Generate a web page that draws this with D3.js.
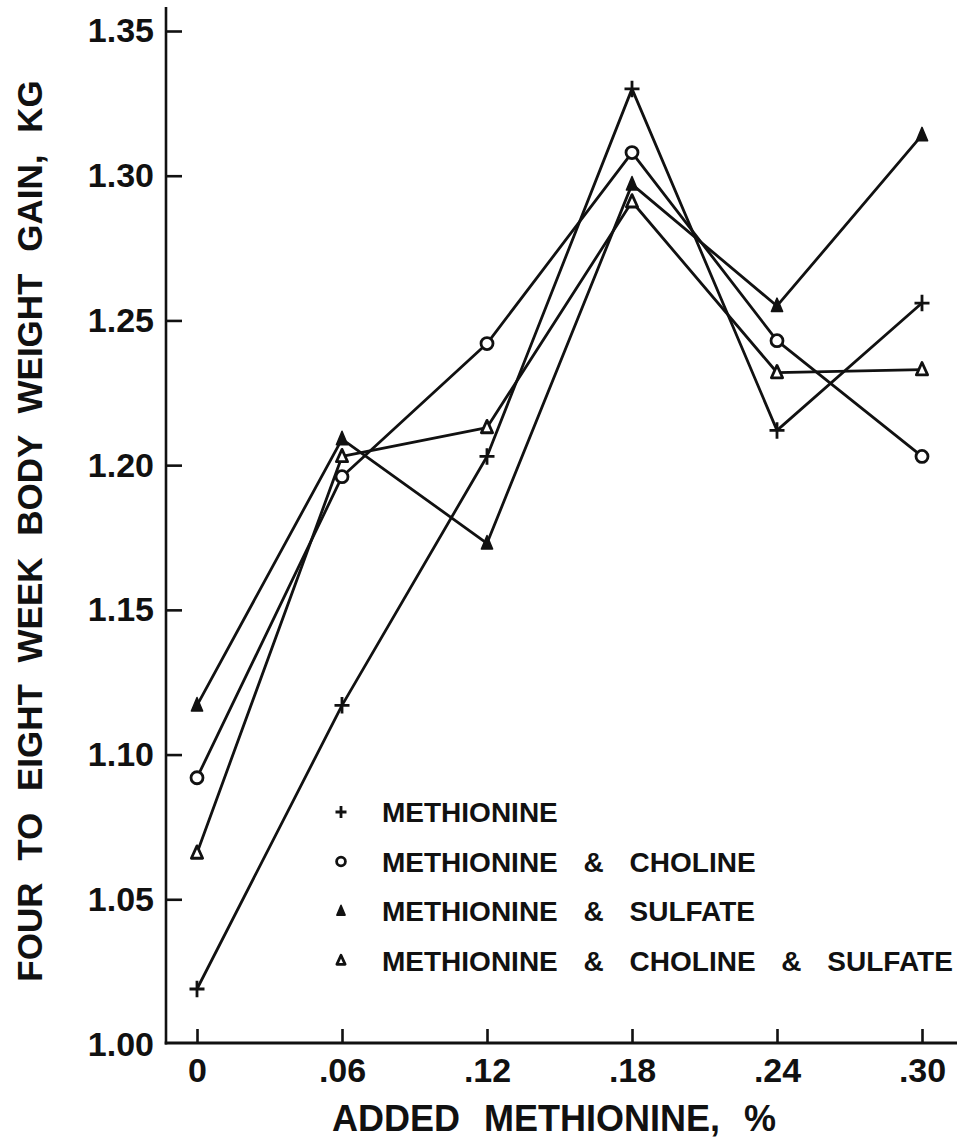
<!DOCTYPE html>
<html>
<head>
<meta charset="utf-8">
<script src="https://cdn.jsdelivr.net/npm/d3@7/dist/d3.min.js"></script>
<style>
  html, body { margin: 0; padding: 0; background: #fff; }
  svg { display: block; }
  text { font-family: "Liberation Sans", Arial, sans-serif; font-weight: bold; fill: #111; }
</style>
</head>
<body>
<svg id="chart" width="959" height="1138"></svg>
<script>
// Added methionine levels (%) and their tick labels
const doses = [0, 0.06, 0.12, 0.18, 0.24, 0.30];
const doseLabels = ["0", ".06", ".12", ".18", ".24", ".30"];

// Weight-gain axis ticks (kg)
const gainTicks = [1.00, 1.05, 1.10, 1.15, 1.20, 1.25, 1.30, 1.35];

// Four to eight week body weight gain, kg, for each supplement
const methionine          = [1.019, 1.117, 1.203, 1.330, 1.212, 1.256];
const methCholine         = [1.092, 1.196, 1.242, 1.308, 1.243, 1.203];
const methSulfate         = [1.117, 1.209, 1.173, 1.297, 1.255, 1.314];
const methCholineSulfate  = [1.066, 1.203, 1.213, 1.291, 1.232, 1.233];

const seriesNames = [
  "METHIONINE",
  "METHIONINE & CHOLINE",
  "METHIONINE & SULFATE",
  "METHIONINE & CHOLINE & SULFATE"
];
const seriesValues = [methionine, methCholine, methSulfate, methCholineSulfate];
const seriesMarkers = ["plus", "circle", "triangleFilled", "triangleOpen"];

const series = seriesNames.map((name, i) => ({
  name,
  marker: seriesMarkers[i],
  points: doses.map((d, j) => ({ dose: d, gain: seriesValues[i][j] }))
}));

const svg = d3.select("#chart");
const ink = "#111";
const axisX = 166, axisY = 1043;

const x = d3.scaleLinear().domain([0, 0.30]).range([197, 922]);
const y = d3.scaleLinear().domain([1.00, 1.35]).range([1044, 31]);

// Axis lines (extend past the tick range like the drafted frame)
svg.append("line")
  .attr("x1", axisX).attr("x2", axisX).attr("y1", 7).attr("y2", axisY + 1.5)
  .attr("stroke", ink).attr("stroke-width", 2.6);
svg.append("line")
  .attr("x1", axisX - 1.3).attr("x2", 957).attr("y1", axisY).attr("y2", axisY)
  .attr("stroke", ink).attr("stroke-width", 2.8);

// Y axis: inward ticks
const yAxis = d3.axisLeft(y)
  .tickValues(gainTicks.slice(1))
  .tickFormat(d3.format(".2f"))
  .tickSize(-16)
  .tickPadding(12);
const gy = svg.append("g").attr("transform", `translate(${axisX},0)`).call(yAxis);
gy.select(".domain").remove();
gy.selectAll(".tick line").attr("stroke", ink).attr("stroke-width", 2.6);
gy.selectAll(".tick text")
  .attr("font-size", 34).attr("fill", ink)
  .style("font-family", "'Liberation Sans', Arial, sans-serif")
  .style("font-weight", "bold");

// Label for the 1.00 tick sits at the corner
svg.append("text")
  .attr("x", axisX - 12).attr("y", y(1.00))
  .attr("dy", "0.36em")
  .attr("text-anchor", "end")
  .attr("font-size", 34)
  .text(d3.format(".2f")(gainTicks[0]));

// X axis: inward ticks
const xAxis = d3.axisBottom(x)
  .tickValues(doses)
  .tickFormat((d, i) => doseLabels[i])
  .tickSize(-14)
  .tickPadding(15);
const gx = svg.append("g").attr("transform", `translate(0,${axisY})`).call(xAxis);
gx.select(".domain").remove();
gx.selectAll(".tick line").attr("stroke", ink).attr("stroke-width", 2.6);
gx.selectAll(".tick text")
  .attr("font-size", 34).attr("fill", ink)
  .style("font-family", "'Liberation Sans', Arial, sans-serif")
  .style("font-weight", "bold");

// Axis titles
svg.append("text")
  .attr("x", 554).attr("y", 1131)
  .attr("text-anchor", "middle")
  .attr("font-size", 36)
  .style("word-spacing", "14px")
  .text("ADDED METHIONINE, %");

svg.append("text")
  .attr("transform", "translate(42,531) rotate(-90)")
  .attr("text-anchor", "middle")
  .attr("font-size", 35)
  .style("word-spacing", "12px")
  .text("FOUR TO EIGHT WEEK BODY WEIGHT GAIN, KG");

// Series lines
const line = d3.line().x(d => x(d.dose)).y(d => y(d.gain));
svg.append("g").selectAll("path")
  .data(series)
  .join("path")
  .attr("d", d => line(d.points))
  .attr("fill", "none")
  .attr("stroke", ink)
  .attr("stroke-width", 2.8)
  .attr("stroke-linejoin", "round");

// Marker drawing
function drawMarker(g, type, s) {
  const sw = 2.8;
  if (type === "plus") {
    g.append("path")
      .attr("d", `M${-s},0H${s}M0,${-s * 1.1}V${s * 1.1}`)
      .attr("stroke", ink).attr("stroke-width", sw).attr("fill", "none");
  } else if (type === "circle") {
    g.append("circle").attr("r", s * 0.8)
      .attr("fill", "#fff").attr("stroke", ink).attr("stroke-width", sw);
  } else if (type === "triangleFilled") {
    g.append("path")
      .attr("d", `M0,${-s * 1.05}L${s * 0.75},${s * 0.75}L${-s * 0.75},${s * 0.75}Z`)
      .attr("fill", ink).attr("stroke", ink).attr("stroke-width", 1.5)
      .attr("stroke-linejoin", "round");
  } else {
    g.append("path")
      .attr("d", `M0,${-s * 0.95}L${s * 0.75},${s * 0.7}L${-s * 0.75},${s * 0.7}Z`)
      .attr("fill", "#fff").attr("stroke", ink).attr("stroke-width", sw)
      .attr("stroke-linejoin", "round");
  }
}

series.forEach(sr => {
  svg.append("g").selectAll("g")
    .data(sr.points)
    .join("g")
    .attr("transform", d => `translate(${x(d.dose)},${y(d.gain)})`)
    .each(function () { drawMarker(d3.select(this), sr.marker, 7.5); });
});

// Legend
const legend = svg.append("g").attr("transform", "translate(341,812)");
const rowGap = 49.5;
series.forEach((sr, i) => {
  const row = legend.append("g").attr("transform", `translate(0,${i * rowGap})`);
  drawMarker(row.append("g"), sr.marker, 5.5);
  row.append("text")
    .attr("x", 41).attr("y", 0)
    .attr("dy", "0.36em")
    .attr("font-size", 28)
    .style("word-spacing", "18px")
    .text(sr.name);
});
</script>
</body>
</html>
